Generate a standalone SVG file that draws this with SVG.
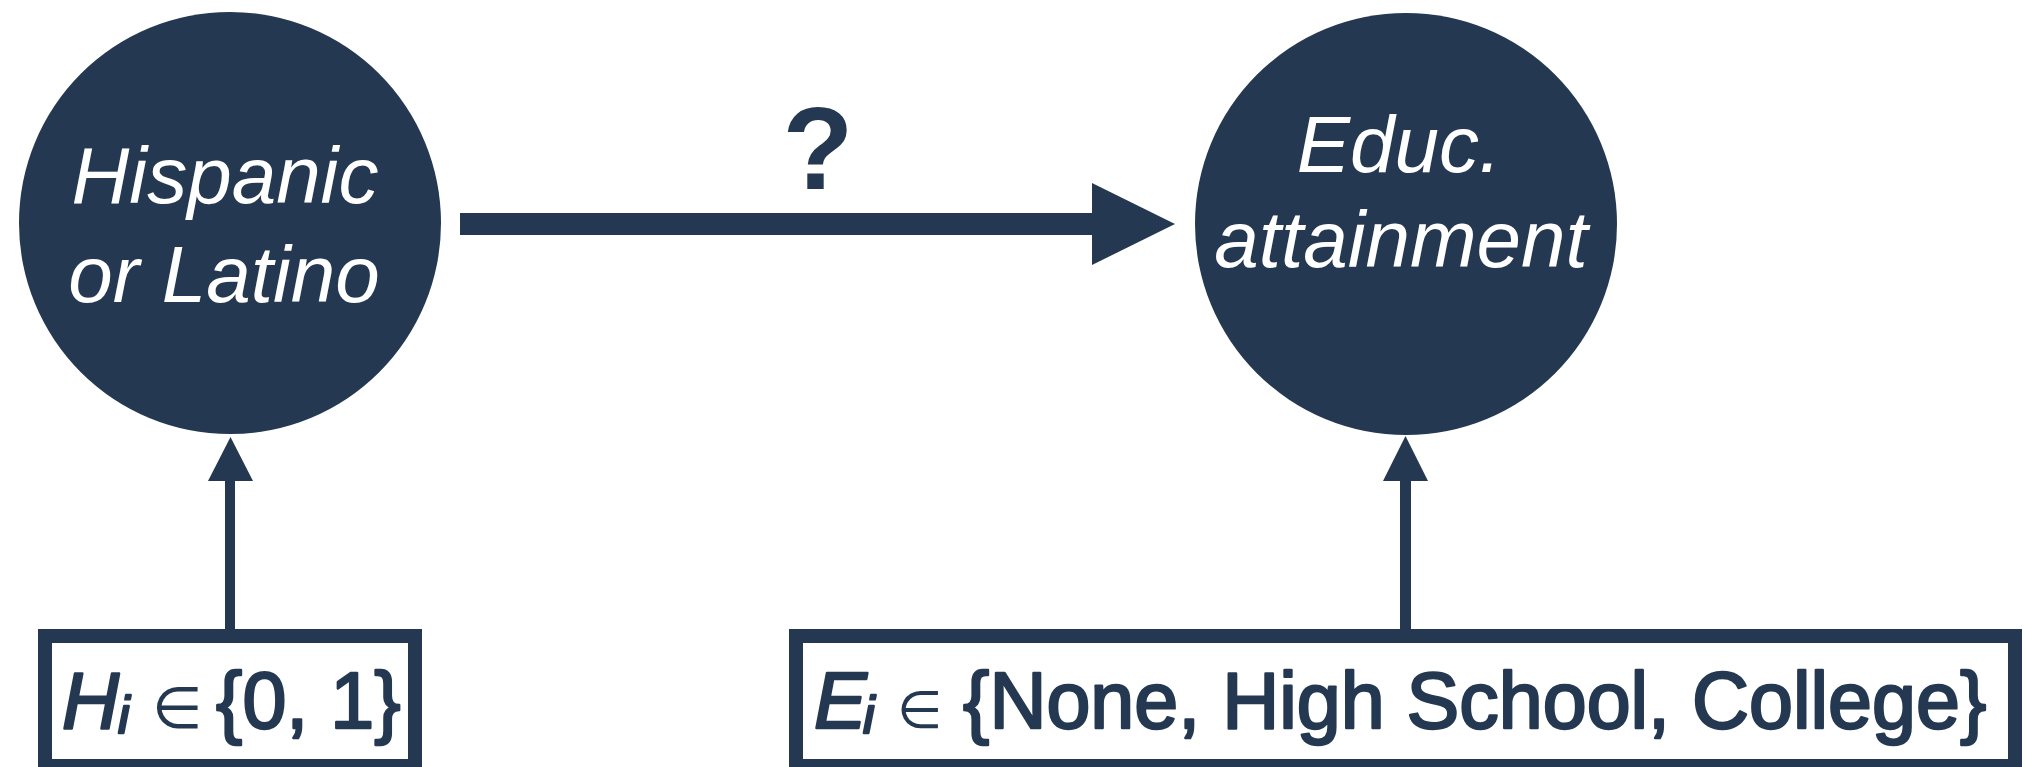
<svg xmlns="http://www.w3.org/2000/svg" width="2025" height="767" viewBox="0 0 2025 767">
<style>
.node{fill:#243851}
.lbl{font-family:"Liberation Sans",Arial,"DejaVu Sans",sans-serif;font-style:italic;font-size:80px;fill:#ffffff;text-anchor:middle}
.box{fill:#ffffff;stroke:#243851;stroke-width:14}
.btxt{font-family:"Liberation Sans",Arial,"DejaVu Sans",sans-serif;font-size:79px;fill:#243851;stroke:#243851;stroke-width:2.4;stroke-linejoin:round}
.it{font-style:italic}
.sym{stroke-width:0}
.conn{fill:#243851}
</style>
<rect width="2025" height="767" fill="#ffffff"/>
<g id="connectors">
<rect class="conn" x="460" y="213" width="633" height="22"/>
<polygon class="conn" points="1092,183 1175,224 1092,265"/>
<rect class="conn" x="225" y="480" width="10" height="150"/>
<polygon class="conn" points="208,481 253,481 230.5,437"/>
<rect class="conn" x="1400" y="480" width="11" height="150"/>
<polygon class="conn" points="1383,481 1428,481 1405.5,436"/>
<text x="818" y="189" font-family="'Liberation Sans',Arial,sans-serif" font-weight="bold" font-size="116" fill="#243851" text-anchor="middle">?</text>
</g>
<g id="node-hispanic">
<circle class="node" cx="230" cy="223" r="211"/>
<text class="lbl" x="225" y="203">Hispanic</text>
<text class="lbl" x="224" y="302">or Latino</text>
</g>
<g id="node-educ">
<circle class="node" cx="1406" cy="224" r="211"/>
<text class="lbl" x="1399" y="172">Educ.</text>
<text class="lbl" x="1401" y="267">attainment</text>
</g>
<g id="box-h">
<rect class="box" x="45" y="636" width="370" height="130"/>
<text class="btxt"><tspan class="it" x="62" y="728">H</tspan><tspan class="it" x="118" y="733" font-size="52">i</tspan><tspan class="sym" x="152" y="728" font-size="58">∈</tspan><tspan x="216" y="728">{0, 1}</tspan></text>
</g>
<g id="box-e">
<rect class="box" x="796" y="636" width="1219" height="130"/>
<text class="btxt"><tspan class="it" x="814" y="728">E</tspan><tspan class="it" x="863" y="733" font-size="52">i</tspan><tspan class="sym" x="897" y="728" font-size="52">∈</tspan><tspan x="963" y="728">{None, High School, College}</tspan></text>
</g>
</svg>
